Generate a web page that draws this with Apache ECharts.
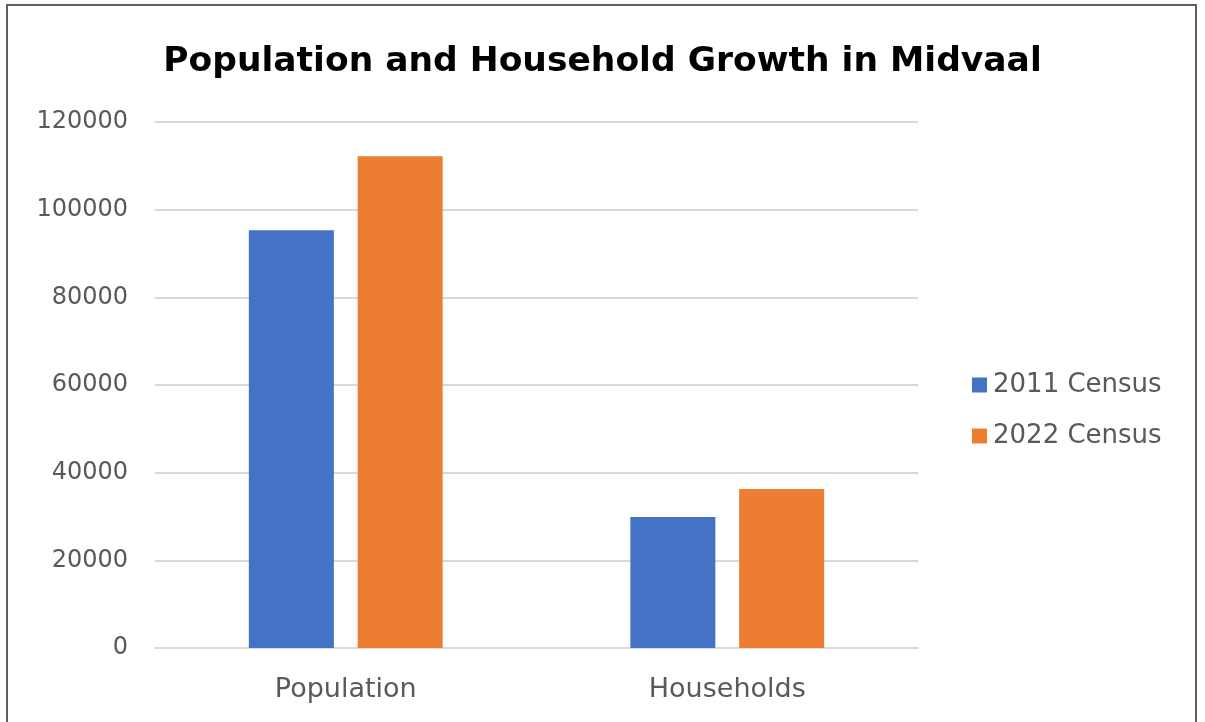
<!DOCTYPE html>
<html>
<head>
<meta charset="utf-8">
<script src="https://cdn.jsdelivr.net/npm/echarts@6/dist/echarts.min.js"></script>
<style>
  html, body { margin: 0; padding: 0; background: #fff; }
  #frame { position: absolute; left: 6px; top: 4px; width: 1191px; height: 730px;
           border: 2px solid #5e5e5e; box-sizing: border-box; }
  #chart { position: absolute; left: 0; top: 0; width: 1205px; height: 722px; }
</style>
</head>
<body>
<div id="chart"></div>
<div id="frame"></div>
<script>
const titleText = 'Population and Household Growth in Midvaal';
const categories = ['Population', 'Households'];
const seriesNames = ['2011 Census', '2022 Census'];
const census2011 = [95300, 29900];
const census2022 = [112180, 36300];
const yTicks = { min: 0, max: 120000, interval: 20000 };

const font = 'DejaVu Sans';
const chart = echarts.init(document.getElementById('chart'), null, { renderer: 'canvas' });
chart.setOption({
  animation: false,
  backgroundColor: '#ffffff',
  title: {
    text: titleText,
    left: 'center',
    top: 40,
    textStyle: { fontFamily: font, fontWeight: 'bold', fontSize: 34.5, color: '#000' }
  },
  legend: {
    orient: 'vertical',
    left: 967,
    top: 367,
    icon: 'rect',
    itemWidth: 15,
    itemHeight: 15,
    itemGap: 25,
    data: seriesNames,
    textStyle: { fontFamily: font, fontSize: 26, color: '#595959', padding: [0, 0, 0, 1] }
  },
  grid: { left: 155, right: 287, top: 122, bottom: 74, containLabel: false },
  xAxis: {
    type: 'category',
    data: categories,
    axisLine: { show: true, lineStyle: { color: '#d9d9d9', width: 2 } },
    axisTick: { show: false },
    axisLabel: { fontFamily: font, fontSize: 27, color: '#595959', margin: 28 }
  },
  yAxis: {
    type: 'value',
    min: yTicks.min, max: yTicks.max, interval: yTicks.interval,
    axisLine: { show: false },
    axisTick: { show: false },
    splitLine: { lineStyle: { color: '#d9d9d9', width: 2 } },
    axisLabel: { fontFamily: font, fontSize: 24, color: '#595959', margin: 27,
                 formatter: function (v) { return String(v); } }
  },
  series: [
    { name: seriesNames[0], type: 'bar', data: census2011, barWidth: 85, barGap: '28%',
      itemStyle: { color: '#4472C4' } },
    { name: seriesNames[1], type: 'bar', data: census2022, barWidth: 85, barGap: '28%',
      itemStyle: { color: '#ED7D31' } }
  ]
});
</script>
</body>
</html>
